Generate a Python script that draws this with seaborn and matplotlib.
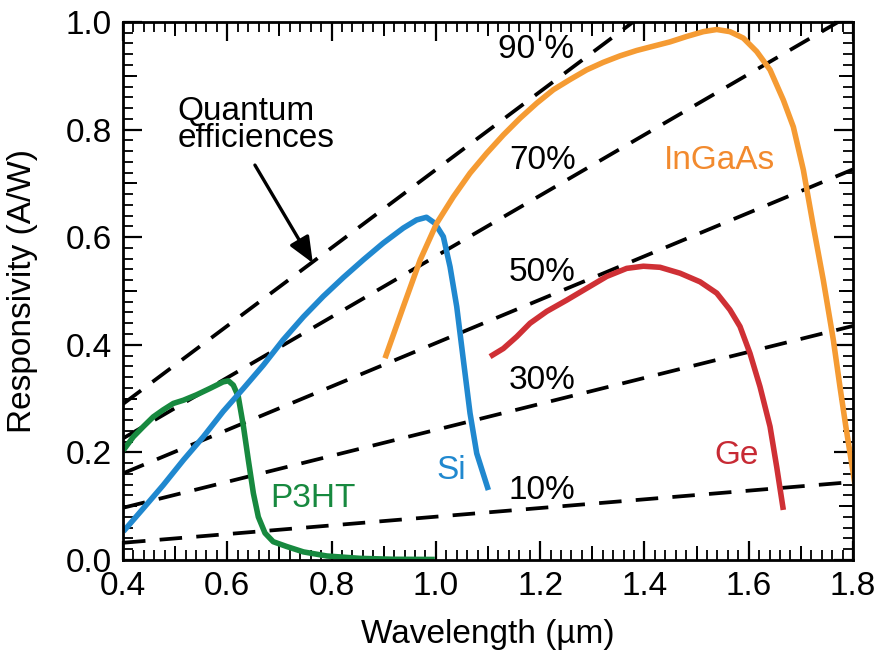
import numpy as np
import pandas as pd
import matplotlib
matplotlib.use("Agg")
import matplotlib.pyplot as plt
import seaborn as sns
from matplotlib.ticker import MultipleLocator, FormatStrFormatter

# ---------------- data ----------------
si_wl = [0.4006, 0.439, 0.477, 0.516, 0.554, 0.592, 0.631, 0.669, 0.707, 0.746, 0.784, 0.8225,
         0.861, 0.899, 0.9376, 0.963, 0.982, 0.998, 1.0143, 1.0272, 1.040, 1.0527, 1.0655, 1.0784, 1.1007]
si_r  = [0.053, 0.096, 0.139, 0.186, 0.229, 0.276, 0.319, 0.362, 0.409, 0.452, 0.490, 0.525,
         0.558, 0.589, 0.617, 0.632, 0.637, 0.626, 0.601, 0.545, 0.471, 0.372, 0.273, 0.198, 0.130]

ingaas_wl = [0.9025, 0.9376, 0.970, 1.0017, 1.0335, 1.0655, 1.0975, 1.1294, 1.1614, 1.1934, 1.2253,
             1.2573, 1.2893, 1.3212, 1.3532, 1.3852, 1.4171, 1.4491, 1.481, 1.513, 1.5387, 1.564,
             1.5897, 1.6154, 1.6409, 1.6664, 1.6856, 1.7048, 1.724, 1.7431, 1.7623, 1.775, 1.786, 1.804]
ingaas_r  = [0.375, 0.471, 0.558, 0.626, 0.675, 0.719, 0.756, 0.790, 0.821, 0.849, 0.874,
             0.893, 0.911, 0.925, 0.937, 0.947, 0.955, 0.963, 0.973, 0.982, 0.986, 0.982,
             0.970, 0.945, 0.911, 0.855, 0.805, 0.725, 0.620, 0.520, 0.409, 0.322, 0.250, 0.139]

ge_wl = [1.1039, 1.1294, 1.155, 1.1806, 1.2126, 1.251, 1.2893, 1.3277, 1.366, 1.398, 1.430, 1.4683,
         1.5067, 1.5387, 1.564, 1.5833, 1.6025, 1.6217, 1.6409, 1.6537, 1.6664]
ge_r  = [0.378, 0.393, 0.415, 0.440, 0.462, 0.483, 0.505, 0.527, 0.542, 0.546, 0.544, 0.533,
         0.517, 0.496, 0.465, 0.434, 0.384, 0.322, 0.248, 0.173, 0.093]

p3ht_wl = [0.4006, 0.4198, 0.439, 0.458, 0.477, 0.4965, 0.516, 0.541, 0.567, 0.592, 0.602, 0.6115,
           0.621, 0.631, 0.6403, 0.650, 0.6595, 0.6723, 0.688, 0.714, 0.746, 0.791, 0.8545, 0.918, 0.998]
p3ht_r  = [0.204, 0.229, 0.248, 0.266, 0.279, 0.291, 0.297, 0.307, 0.319, 0.331, 0.333, 0.325,
           0.304, 0.248, 0.186, 0.124, 0.080, 0.050, 0.034, 0.025, 0.015, 0.0074, 0.003, 0.0013, 0.001]

# quantum-efficiency guide lines: value at 0.4 um and at 1.8 um
qe_labels = ["10%", "30%", "50%", "70%", "90 %"]
qe_start  = [0.032, 0.097, 0.161, 0.226, 0.290]
qe_end    = [0.145, 0.435, 0.726, 1.016, 1.306]
qe_x      = [0.4, 1.8]

colors = {"Si": "#2088cf", "InGaAs": "#f59b33", "Ge": "#cf3035", "P3HT": "#17893f"}
text_colors = {"Si": "#2088cf", "InGaAs": "#f28a2e", "Ge": "#c72a34", "P3HT": "#17893f"}

# ---------------- figure ----------------
sns.set_theme(style="white")
plt.rcParams["font.family"] = ["Liberation Sans", "DejaVu Sans"]

fig = plt.figure(figsize=(8.8, 6.5), dpi=100)
ax = fig.add_axes([0.1398, 0.1385, 0.8295, 0.8277])

# dashed QE lines
for s, e in zip(qe_start, qe_end):
    d = pd.DataFrame({"x": qe_x, "y": [s, e]})
    sns.lineplot(data=d, x="x", y="y", ax=ax, color="black", lw=2.7,
                 estimator=None, sort=False)
for l in ax.lines:
    l.set_dashes([6, 3.8])
    l.set_dash_capstyle("butt")

series = [("P3HT", p3ht_wl, p3ht_r), ("Si", si_wl, si_r),
          ("InGaAs", ingaas_wl, ingaas_r), ("Ge", ge_wl, ge_r)]
for name, wl, r in series:
    d = pd.DataFrame({"x": wl, "y": r})
    sns.lineplot(data=d, x="x", y="y", ax=ax, color=colors[name], lw=4.0,
                 estimator=None, sort=False)
    ax.lines[-1].set_solid_capstyle("butt")
    ax.lines[-1].set_solid_joinstyle("round")

ax.set_xlim(0.4, 1.8)
ax.set_ylim(0.0, 1.0)

fs = 24
# QE labels
qe_lab_pos = [(1.14, 0.130), (1.14, 0.333), (1.14, 0.535), (1.14, 0.743), (1.119, 0.948)]
for lab, (x, y) in zip(qe_labels, qe_lab_pos):
    ax.text(x, y, lab, fontsize=fs, color="black", va="center", ha="left")

ax.text(1.438, 0.743, "InGaAs", fontsize=fs, color=text_colors["InGaAs"], va="center", ha="left")
ax.text(1.535, 0.195, "Ge", fontsize=fs, color=text_colors["Ge"], va="center", ha="left")
ax.text(1.002, 0.167, "Si", fontsize=fs, color=text_colors["Si"], va="center", ha="left")
ax.text(0.682, 0.115, "P3HT", fontsize=fs, color=text_colors["P3HT"], va="center", ha="left")

ax.text(0.504, 0.808, "Quantum\nefficiences", fontsize=fs, color="black",
        va="center", ha="left", linespacing=0.82)
ax.annotate("", xy=(0.764, 0.552), xytext=(0.653, 0.734),
            arrowprops=dict(arrowstyle="-|>,head_length=1.3,head_width=0.55",
                            color="black", lw=2.4, shrinkA=0, shrinkB=0))

# axes styling
ax.set_xlabel("Wavelength (µm)", fontsize=fs, color="black", labelpad=12)
ax.set_ylabel("Responsivity (A/W)", fontsize=fs, color="black", labelpad=20)
ax.xaxis.set_major_locator(MultipleLocator(0.2))
ax.yaxis.set_major_locator(MultipleLocator(0.2))
ax.xaxis.set_minor_locator(MultipleLocator(0.02))
ax.yaxis.set_minor_locator(MultipleLocator(0.02))
ax.xaxis.set_major_formatter(FormatStrFormatter("%.1f"))
ax.yaxis.set_major_formatter(FormatStrFormatter("%.1f"))
ax.tick_params(which="major", direction="in", length=14, width=1.6, labelsize=fs,
               top=True, right=True, bottom=True, left=True, colors="black", pad=8)
ax.tick_params(which="minor", direction="in", length=7, width=1.3,
               top=True, right=True, bottom=True, left=True, colors="black")
for sp in ax.spines.values():
    sp.set_color("black")
    sp.set_linewidth(2.0)

# medium ticks at 0.1 steps
mid_x = [0.5, 0.7, 0.9, 1.1, 1.3, 1.5, 1.7]
mid_y = [0.1, 0.3, 0.5, 0.7, 0.9]
for loc in (0, 1):
    sx = ax.secondary_xaxis(loc)
    sx.set_xticks(mid_x, labels=[])
    sx.tick_params(direction="in", length=10, width=1.4, colors="black",
                   bottom=(loc == 0), top=(loc == 1))
    sx.spines[:].set_visible(False)
    sy = ax.secondary_yaxis(loc)
    sy.set_yticks(mid_y, labels=[])
    sy.tick_params(direction="in", length=10, width=1.4, colors="black",
                   left=(loc == 0), right=(loc == 1))
    sy.spines[:].set_visible(False)

fig.savefig("out.png", dpi=100)
